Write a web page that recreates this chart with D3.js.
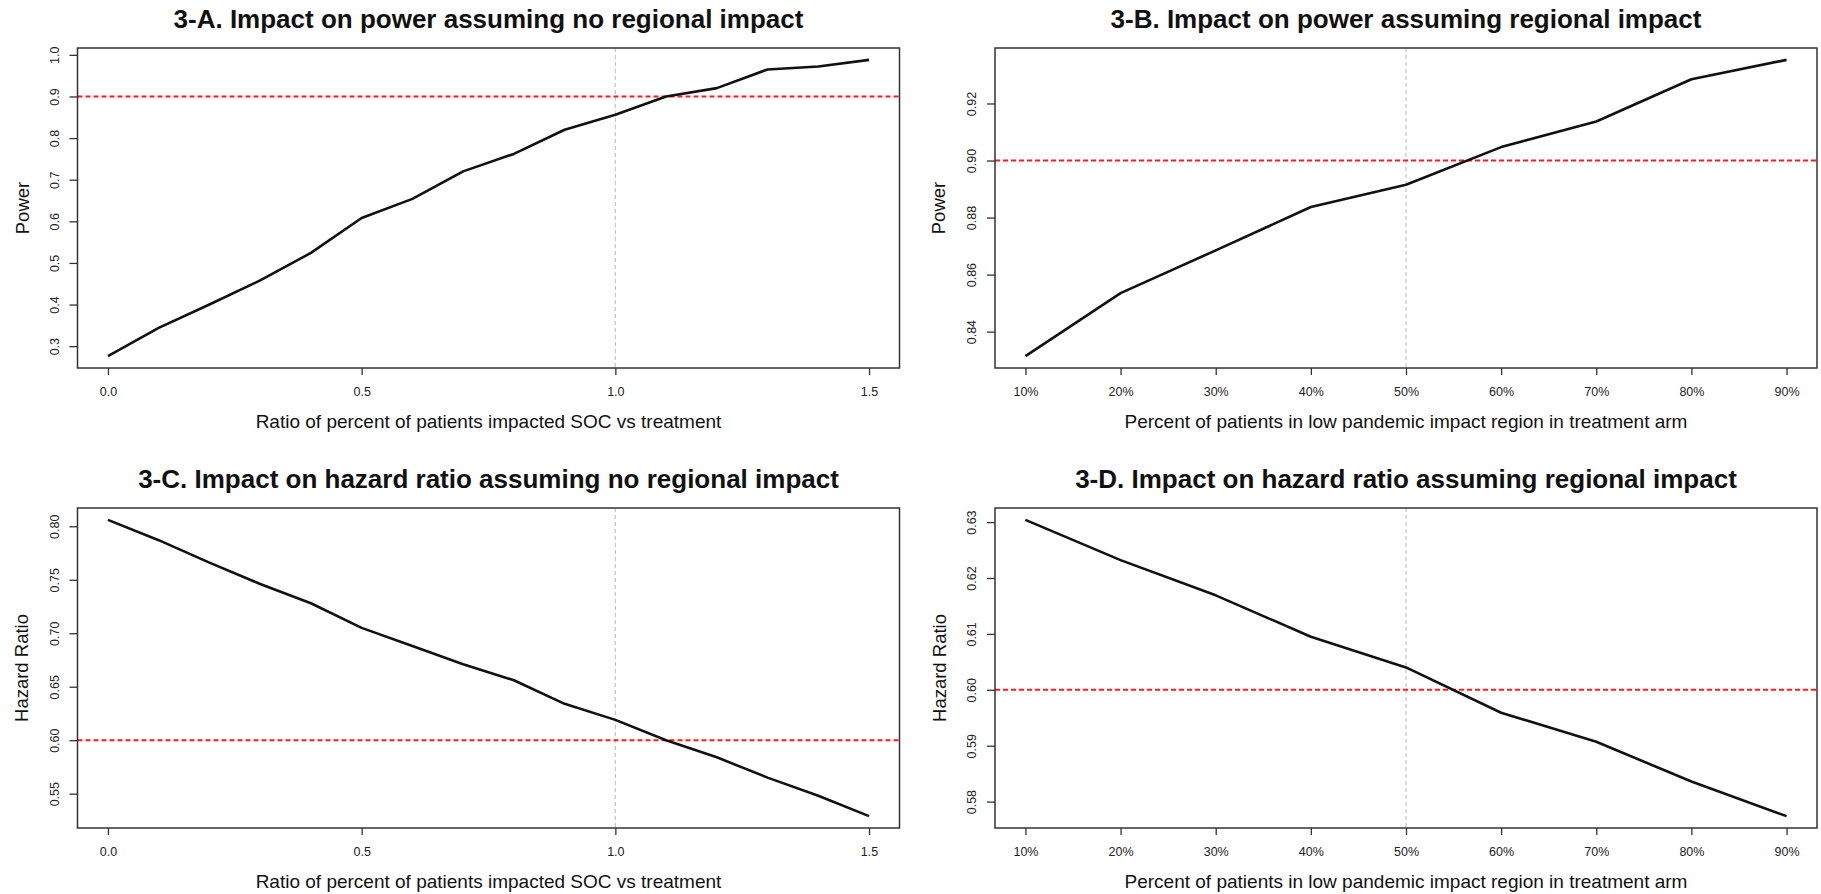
<!DOCTYPE html>
<html>
<head>
<meta charset="utf-8">
<script src="https://cdn.jsdelivr.net/npm/d3@7"></script>
<style>
  html, body { margin: 0; padding: 0; background: #fff; }
  svg { display: block; font-family: "Liberation Sans", Arial, sans-serif; }
</style>
</head>
<body>
<svg id="chart" width="1821" height="894"></svg>
<script>
// Ratio of percent of patients impacted (SOC vs treatment)
const ratioX = [0.0, 0.1, 0.2, 0.3, 0.4, 0.5, 0.6, 0.7, 0.8, 0.9, 1.0, 1.1, 1.2, 1.3, 1.4, 1.5];
const ratioTicks = [0.0, 0.5, 1.0, 1.5];

// Percent of patients in low pandemic impact region (treatment arm)
const percentX = [10, 20, 30, 40, 50, 60, 70, 80, 90];
const percentTickLabels = ["10%", "20%", "30%", "40%", "50%", "60%", "70%", "80%", "90%"];

// 3-A power, no regional impact
const powerNoRegional = [0.276, 0.344, 0.400, 0.458, 0.524, 0.608, 0.654, 0.720, 0.762, 0.820, 0.856, 0.900, 0.920, 0.965, 0.972, 0.988];
// 3-B power, regional impact
const powerRegional = [0.8314, 0.8535, 0.8685, 0.8837, 0.8915, 0.9047, 0.9137, 0.9285, 0.9353];
// 3-C hazard ratio, no regional impact
const hazardNoRegional = [0.806, 0.787, 0.766, 0.746, 0.728, 0.705, 0.688, 0.671, 0.656, 0.634, 0.619, 0.600, 0.584, 0.565, 0.548, 0.529];
// 3-D hazard ratio, regional impact
const hazardRegional = [0.6304, 0.6232, 0.6169, 0.6095, 0.6040, 0.5959, 0.5907, 0.5836, 0.5774];

// y tick values
const powerTicksA = [0.3, 0.4, 0.5, 0.6, 0.7, 0.8, 0.9, 1.0];
const powerTicksB = [0.84, 0.86, 0.88, 0.90, 0.92];
const hazardTicksC = [0.55, 0.60, 0.65, 0.70, 0.75, 0.80];
const hazardTicksD = [0.58, 0.59, 0.60, 0.61, 0.62, 0.63];

// reference levels
const targetPower = 0.9;
const targetHazard = 0.6;
const ratioRef = 1.0;
const percentRef = 50;

const svg = d3.select("#chart");
svg.append("rect").attr("width", 1821).attr("height", 894).attr("fill", "#fff");

// plot regions
const cols = [[77.5, 899.5], [995, 1817]];
const rows = [[48, 368], [508, 828]];

// R-style axis range: data extent padded by 4% on each side
function padded(values) {
  const [lo, hi] = d3.extent(values);
  const p = (hi - lo) * 0.04;
  return [lo - p, hi + p];
}

const panels = [
  { title: "3-A. Impact on power assuming no regional impact", col: 0, row: 0,
    xs: ratioX, ys: powerNoRegional, xTicks: ratioTicks, xFmt: d3.format(".1f"),
    yTicks: powerTicksA, yFmt: d3.format(".1f"), yLabel: "Power", hLine: targetPower, vLine: ratioRef,
    xLabel: "Ratio of percent of patients impacted SOC vs treatment", yLabelX: 23 },
  { title: "3-B. Impact on power assuming regional impact", col: 1, row: 0,
    xs: percentX, ys: powerRegional, xTicks: percentX, xFmt: (d, i) => percentTickLabels[i],
    yTicks: powerTicksB, yFmt: d3.format(".2f"), yLabel: "Power", hLine: targetPower, vLine: percentRef,
    xLabel: "Percent of patients in low pandemic impact region in treatment arm", yLabelX: 939 },
  { title: "3-C. Impact on hazard ratio assuming no regional impact", col: 0, row: 1,
    xs: ratioX, ys: hazardNoRegional, xTicks: ratioTicks, xFmt: d3.format(".1f"),
    yTicks: hazardTicksC, yFmt: d3.format(".2f"), yLabel: "Hazard Ratio", hLine: targetHazard, vLine: ratioRef,
    xLabel: "Ratio of percent of patients impacted SOC vs treatment", yLabelX: 22 },
  { title: "3-D. Impact on hazard ratio assuming regional impact", col: 1, row: 1,
    xs: percentX, ys: hazardRegional, xTicks: percentX, xFmt: (d, i) => percentTickLabels[i],
    yTicks: hazardTicksD, yFmt: d3.format(".2f"), yLabel: "Hazard Ratio", hLine: targetHazard, vLine: percentRef,
    xLabel: "Percent of patients in low pandemic impact region in treatment arm", yLabelX: 940 }
];

panels.forEach((p, idx) => {
  const [x0, x1] = cols[p.col];
  const [y0, y1] = rows[p.row];
  const x = d3.scaleLinear().domain(padded(p.xs)).range([x0, x1]);
  const y = d3.scaleLinear().domain(padded(p.ys)).range([y1, y0]);
  const g = svg.append("g");

  const clipId = "clip" + idx;
  g.append("clipPath").attr("id", clipId)
    .append("rect").attr("x", x0).attr("y", y0).attr("width", x1 - x0).attr("height", y1 - y0);
  const plot = g.append("g").attr("clip-path", `url(#${clipId})`);

  // vertical reference (grey dashed)
  plot.append("line")
    .attr("x1", x(p.vLine)).attr("x2", x(p.vLine))
    .attr("y1", y0).attr("y2", y1)
    .attr("stroke", "#c4c4c4").attr("stroke-width", 1.2)
    .attr("stroke-dasharray", "4,3");

  // horizontal target (red dashed)
  plot.append("line")
    .attr("x1", x0).attr("x2", x1)
    .attr("y1", y(p.hLine)).attr("y2", y(p.hLine))
    .attr("stroke", "#ff1a1a").attr("stroke-width", 2)
    .attr("stroke-dasharray", "5,3");

  // series line
  const line = d3.line().x((d, i) => x(p.xs[i])).y(d => y(d));
  plot.append("path")
    .datum(p.ys)
    .attr("d", line)
    .attr("fill", "none")
    .attr("stroke", "#111")
    .attr("stroke-width", 2.6)
    .attr("stroke-linejoin", "round");

  // x axis
  const xAxis = g.append("g")
    .attr("transform", `translate(0,${y1})`)
    .call(d3.axisBottom(x).tickValues(p.xTicks).tickFormat(p.xFmt).tickSize(7).tickSizeOuter(0).tickPadding(12));
  xAxis.select(".domain").remove();
  xAxis.selectAll(".tick line").attr("stroke", "#333").attr("stroke-width", 1.3);
  xAxis.selectAll(".tick text")
    .attr("fill", "#222").attr("font-size", 12.5)
    .attr("font-family", "'Liberation Sans', Arial, sans-serif");

  // y axis with labels parallel to the axis
  const yAxis = g.append("g")
    .attr("transform", `translate(${x0},0)`)
    .call(d3.axisLeft(y).tickValues(p.yTicks).tickFormat(p.yFmt).tickSize(8).tickSizeOuter(0));
  yAxis.select(".domain").remove();
  yAxis.selectAll(".tick line").attr("stroke", "#333").attr("stroke-width", 1.3);
  yAxis.selectAll(".tick text")
    .attr("x", 0).attr("dy", 0)
    .attr("text-anchor", "middle")
    .attr("transform", "translate(-19,0) rotate(-90)")
    .attr("fill", "#222").attr("font-size", 12.5)
    .attr("font-family", "'Liberation Sans', Arial, sans-serif");

  // plot frame
  g.append("rect")
    .attr("x", x0).attr("y", y0).attr("width", x1 - x0).attr("height", y1 - y0)
    .attr("fill", "none").attr("stroke", "#333").attr("stroke-width", 1.5);

  // titles
  g.append("text")
    .attr("x", (x0 + x1) / 2).attr("y", y0 - 20)
    .attr("text-anchor", "middle")
    .attr("font-size", 26).attr("font-weight", "bold").attr("fill", "#111")
    .text(p.title);

  g.append("text")
    .attr("x", (x0 + x1) / 2).attr("y", y1 + 60)
    .attr("text-anchor", "middle")
    .attr("font-size", 19).attr("fill", "#111")
    .text(p.xLabel);

  g.append("text")
    .attr("transform", `translate(${p.yLabelX + 6},${(y0 + y1) / 2}) rotate(-90)`)
    .attr("text-anchor", "middle")
    .attr("font-size", 18.5).attr("fill", "#111")
    .text(p.yLabel);
});
</script>
</body>
</html>
